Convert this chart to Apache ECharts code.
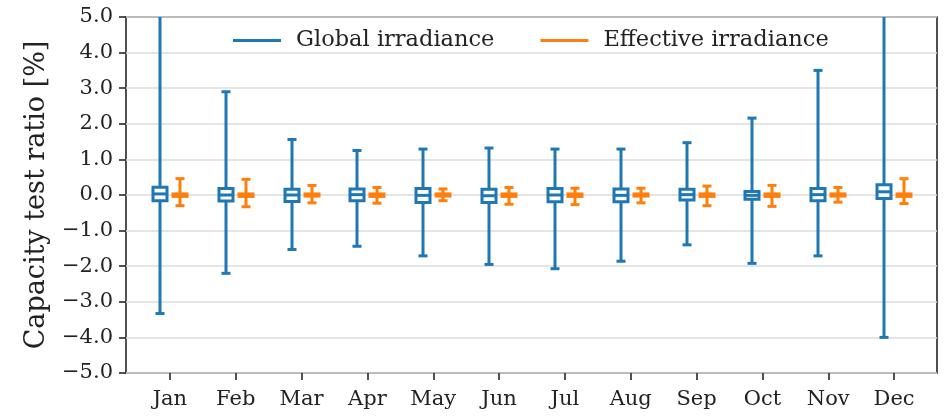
<!DOCTYPE html>
<html>
<head>
<meta charset="utf-8">
<title>Capacity test ratio</title>
<script src="https://cdn.jsdelivr.net/npm/echarts@6/dist/echarts.min.js"></script>
<style>
  html, body { margin: 0; padding: 0; background: #fff; }
  #chart { width: 947px; height: 417px; }
</style>
</head>
<body>
<div id="chart"></div>
<script>
// monthly box statistics, values in %
const months = ['Jan', 'Feb', 'Mar', 'Apr', 'May', 'Jun', 'Jul', 'Aug', 'Sep', 'Oct', 'Nov', 'Dec'];
const yTicks = [-5, -4, -3, -2, -1, 0, 1, 2, 3, 4, 5];

// Global irradiance: [min, q1, median, q3, max]
const globalMin = [-3.33, -2.20, -1.53, -1.44, -1.71, -1.95, -2.07, -1.86, -1.40, -1.92, -1.71, -4.00];
const globalQ1  = [-0.16, -0.17, -0.18, -0.16, -0.21, -0.21, -0.19, -0.19, -0.14, -0.12, -0.16, -0.10];
const globalMed = [0.03, 0.00, 0.00, 0.01, -0.01, -0.02, 0.00, -0.01, 0.01, -0.01, 0.01, 0.09];
const globalQ3  = [0.22, 0.18, 0.16, 0.17, 0.18, 0.16, 0.18, 0.17, 0.16, 0.10, 0.18, 0.29];
const globalMax = [6.50, 2.90, 1.56, 1.25, 1.29, 1.32, 1.29, 1.29, 1.47, 2.16, 3.50, 6.20];

// Effective irradiance
const effMin = [-0.30, -0.33, -0.22, -0.23, -0.16, -0.26, -0.27, -0.22, -0.30, -0.32, -0.20, -0.24];
const effQ1  = [-0.04, -0.04, -0.03, -0.04, -0.03, -0.04, -0.04, -0.03, -0.04, -0.04, -0.03, -0.04];
const effMed = [0.00, 0.00, 0.00, 0.00, 0.00, 0.00, 0.00, 0.00, 0.00, 0.00, 0.00, 0.00];
const effQ3  = [0.03, 0.03, 0.03, 0.03, 0.03, 0.03, 0.03, 0.03, 0.03, 0.03, 0.03, 0.03];
const effMax = [0.46, 0.44, 0.27, 0.21, 0.17, 0.21, 0.19, 0.19, 0.25, 0.27, 0.21, 0.46];

const BLUE = '#1f77b4';
const ORANGE = '#ff7f0e';
const FONT = 'DejaVu Serif';

function rows(mn, q1, md, q3, mx) {
  return months.map((m, i) => [i, mn[i], q1[i], md[i], q3[i], mx[i]]);
}

// draws whiskers, caps, box and median for one category, shifted by offset px
function boxRenderer(offset, color) {
  return function (params, api) {
    const i = api.value(0);
    const x = Math.round(api.coord([i, 0])[0] + offset);
    const y = k => api.coord([i, api.value(k)])[1];
    const half = 7, cap = 4.5, lw = 3;
    const line = (x1, y1, x2, y2) => ({
      type: 'line',
      shape: { x1, y1, x2, y2 },
      style: { stroke: color, lineWidth: lw, fill: null }
    });
    return {
      type: 'group',
      children: [
        line(x, y(1), x, y(2)),
        line(x, y(4), x, y(5)),
        line(x - cap, y(1), x + cap, y(1)),
        line(x - cap, y(5), x + cap, y(5)),
        { type: 'rect', shape: { x: x - half, y: y(4), width: half * 2, height: y(2) - y(4) },
          style: { stroke: color, lineWidth: lw, fill: '#fff' } },
        line(x - half, y(3), x + half, y(3))
      ]
    };
  };
}

const chart = echarts.init(document.getElementById('chart'), null, { renderer: 'canvas' });

const option = {
  animation: false,
  textStyle: { fontFamily: FONT, color: '#222' },
  legend: {
    left: 228,
    top: 24,
    itemWidth: 48,
    itemHeight: 3,
    itemGap: 46,
    icon: 'rect',
    textStyle: { fontFamily: FONT, fontSize: 22.5, color: '#222', padding: [0, 0, 0, 10] },
    data: [
      { name: 'Global irradiance', itemStyle: { color: BLUE } },
      { name: 'Effective irradiance', itemStyle: { color: ORANGE } }
    ]
  },
  grid: [
    // frame + y axis
    { left: 126, top: 17, width: 811, height: 356, show: true, borderColor: '#262626', borderWidth: 1.6, containLabel: false },
    // data area (matplotlib style margins on the category axis)
    { left: 137, top: 17, width: 790, height: 356, containLabel: false }
  ],
  xAxis: [
    { gridIndex: 0, type: 'value', show: false, min: 0, max: 1 },
    {
      gridIndex: 1,
      type: 'category',
      position: 'bottom',
      data: months,
      axisLine: { show: false, onZero: false },
      axisTick: { show: true, alignWithLabel: true, length: 7, lineStyle: { color: '#262626', width: 1.6 } },
      axisLabel: { fontFamily: FONT, fontSize: 21, color: '#222', margin: 16 },
      splitLine: { show: false }
    }
  ],
  yAxis: [
    {
      gridIndex: 0,
      type: 'value',
      min: yTicks[0],
      max: yTicks[yTicks.length - 1],
      interval: 1,
      name: 'Capacity test ratio [%]',
      nameLocation: 'middle',
      nameGap: 76,
      nameTextStyle: { fontFamily: FONT, fontSize: 27, color: '#222' },
      axisLine: { show: false },
      axisTick: { show: true, length: 7, lineStyle: { color: '#262626', width: 1.6 } },
      axisLabel: {
        fontFamily: FONT, fontSize: 21, color: '#222', margin: 13,
        formatter: v => v.toFixed(1).replace('-', '\u2212')
      },
      splitLine: { show: true, lineStyle: { color: '#dcdcdc', width: 1.6 } }
    },
    { gridIndex: 1, type: 'value', show: false, min: yTicks[0], max: yTicks[yTicks.length - 1] }
  ],
  series: [
    {
      name: 'Global irradiance',
      type: 'custom',
      xAxisIndex: 1,
      yAxisIndex: 1,
      clip: true,
      itemStyle: { color: BLUE },
      renderItem: boxRenderer(-10, BLUE),
      encode: { x: 0, y: [1, 2, 3, 4, 5] },
      data: rows(globalMin, globalQ1, globalMed, globalQ3, globalMax)
    },
    {
      name: 'Effective irradiance',
      type: 'custom',
      xAxisIndex: 1,
      yAxisIndex: 1,
      clip: true,
      itemStyle: { color: ORANGE },
      renderItem: boxRenderer(10, ORANGE),
      encode: { x: 0, y: [1, 2, 3, 4, 5] },
      data: rows(effMin, effQ1, effMed, effQ3, effMax)
    }
  ]
};

chart.setOption(option);
</script>
</body>
</html>
